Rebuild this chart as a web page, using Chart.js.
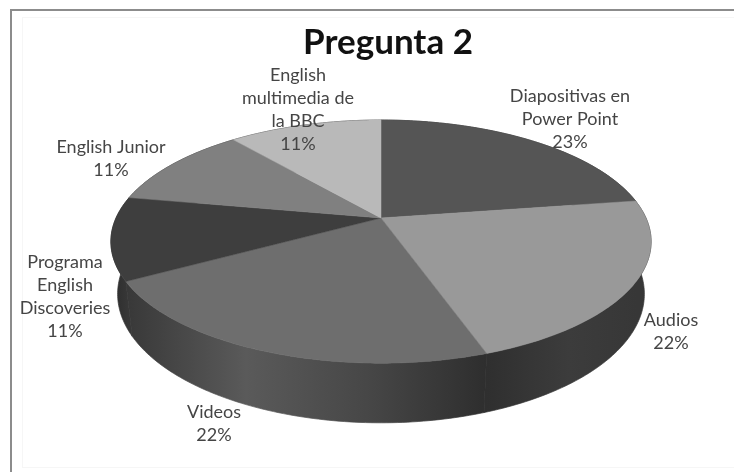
<!DOCTYPE html>
<html>
<head>
<meta charset="utf-8">
<title>Pregunta 2</title>
<script src="https://cdn.jsdelivr.net/npm/chart.js@4"></script>
<style>
  html, body { margin: 0; background: #fff; }
  #wrap { position: relative; width: 734px; height: 472px; overflow: hidden; filter: blur(0.5px); }
  #frame { position: absolute; left: 10px; top: 9px; width: 800px; height: 600px; border-left: 2px solid #8c8c8c; border-top: 2px solid #8c8c8c; }
  #inner { position: absolute; left: 22px; top: 17px; width: 800px; height: 449px; border: 1px solid #f6f6f6; }
  canvas { position: absolute; left: 0; top: 0; }
</style>
</head>
<body>
<div id="wrap">
  <div id="frame"></div>
  <div id="inner"></div>
  <canvas id="chart" width="734" height="472"></canvas>
</div>
<script>
const categories = ['Diapositivas en Power Point', 'Audios', 'Videos', 'Programa English Discoveries', 'English Junior', 'English multimedia de la BBC'];
// first slice reads a bit under 23 from its edges, label still rounds to 23%
const values = [22.5, 22, 22, 11, 11, 11];
const topColors = ['#555555', '#999999', '#6e6e6e', '#3e3e3e', '#808080', '#b9b9b9'];

// wall shading left to right, per slice
const wallShades = [
  ['#333333', '#333333'],
  ['#2f2f2f', '#3c3c3c', '#363636'],
  ['#383838', '#5a5a5a', '#474747', '#2e2e2e'],
  ['#2b2b2b', '#383838'],
  ['#333333', '#333333'],
  ['#333333', '#333333']
];

// label text and where it sits
const labelLines = [
  ['Diapositivas en', 'Power Point'],
  ['Audios'],
  ['Videos'],
  ['Programa', 'English', 'Discoveries'],
  ['English Junior'],
  ['English', 'multimedia de', 'la BBC']
];
const labelCenters = [[570, 96], [671, 320], [214, 412], [65, 262], [111, 147], [298, 75]];

// camera for the tilted disc
const view = { cx: 381, cy: 218, rx: 265, ry: 117, persp: 0.194, depth: 51, shrink: 0.025 };

function project(theta, drop) {
  const X = Math.sin(theta);
  const Y = -Math.cos(theta);
  const w = 1 - view.persp * Y;
  const s = 1 - view.shrink * drop;
  return {
    x: view.cx + s * view.rx * X / w,
    y: view.cy + s * view.ry * Y / w + drop * view.depth / w
  };
}

function rimPoints(start, end, drop) {
  const pts = [];
  const steps = Math.max(4, Math.ceil((end - start) * 60));
  for (let i = 0; i <= steps; i++) {
    pts.push(project(start + (end - start) * i / steps, drop));
  }
  return pts;
}

const pie3d = {
  id: 'pie3d',
  beforeDatasetDraw(chart, args) {
    const ctx = chart.ctx;
    const arcs = chart.getDatasetMeta(args.index).data;
    ctx.save();

    // side wall first, the top covers whatever faces away
    arcs.forEach((arc, i) => {
      const start = arc.startAngle + Math.PI / 2;
      const end = arc.endAngle + Math.PI / 2;
      const upper = rimPoints(start, end, 0);
      const lower = rimPoints(start, end, 1).reverse();
      const xs = upper.map(p => p.x);
      const grad = ctx.createLinearGradient(Math.min(...xs), 0, Math.max(...xs), 0);
      wallShades[i].forEach((c, j) => grad.addColorStop(j / (wallShades[i].length - 1), c));
      ctx.beginPath();
      upper.concat(lower).forEach(p => ctx.lineTo(p.x, p.y));
      ctx.closePath();
      ctx.fillStyle = grad;
      ctx.strokeStyle = grad;
      ctx.lineWidth = 0.7;
      ctx.fill();
      ctx.stroke();
    });

    // top faces
    arcs.forEach(arc => {
      const start = arc.startAngle + Math.PI / 2;
      const end = arc.endAngle + Math.PI / 2;
      ctx.beginPath();
      ctx.moveTo(view.cx, view.cy);
      rimPoints(start, end, 0).forEach(p => ctx.lineTo(p.x, p.y));
      ctx.closePath();
      ctx.fillStyle = arc.options.backgroundColor;
      ctx.strokeStyle = arc.options.backgroundColor;
      ctx.lineWidth = 0.5;
      ctx.fill();
      ctx.stroke();
    });

    ctx.restore();
    return false;
  },
  afterDraw(chart) {
    const ctx = chart.ctx;
    const lineHeight = 23.2;
    ctx.save();
    ctx.font = '18px Lato';
    ctx.fillStyle = '#454545';
    ctx.textAlign = 'center';
    ctx.textBaseline = 'middle';
    values.forEach((v, i) => {
      const lines = labelLines[i].concat(Math.round(v) + '%');
      lines.forEach((line, j) => {
        ctx.fillText(line, labelCenters[i][0], labelCenters[i][1] + j * lineHeight);
      });
    });
    ctx.restore();
  }
};

new Chart(document.getElementById('chart'), {
  type: 'pie',
  data: {
    labels: categories,
    datasets: [{ data: values, backgroundColor: topColors, borderWidth: 0 }]
  },
  options: {
    responsive: false,
    animation: false,
    layout: { padding: { left: 42 } },
    plugins: {
      legend: { display: false },
      tooltip: { enabled: false },
      title: {
        display: true,
        text: 'Pregunta 2',
        color: '#111111',
        font: { family: 'Lato', size: 35, weight: 'bold' },
        padding: { top: 22, bottom: 10 }
      }
    }
  },
  plugins: [pie3d]
});
</script>
</body>
</html>
